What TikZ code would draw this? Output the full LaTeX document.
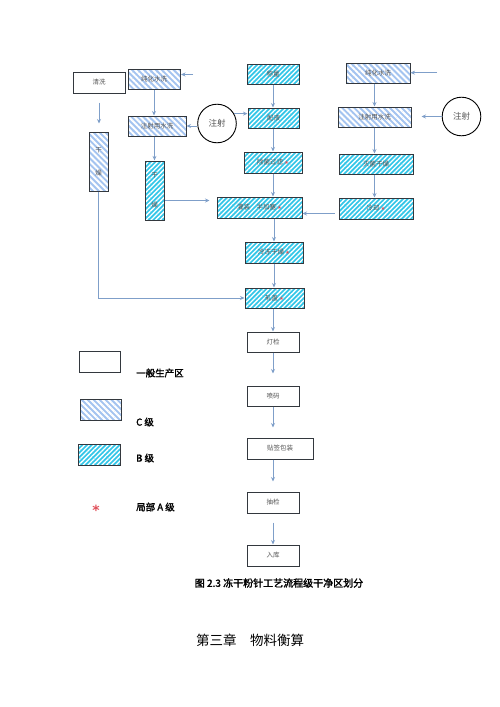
\documentclass[tikz,border=0pt]{standalone}
\usepackage{fontspec}
\newfontfamily\cjk{Noto Sans CJK SC}
\newfontfamily\cjkb[FakeBold=2]{Noto Sans CJK SC}
\newfontfamily\sym{DejaVu Sans}
\newfontfamily\symb{DejaVu Sans Bold}
\usetikzlibrary{patterns.meta,arrows.meta,calc}
\definecolor{arrc}{HTML}{7F9FC9}
\definecolor{bordc}{HTML}{33383E}
\definecolor{cfill}{HTML}{A4C4F0}
\definecolor{bfill}{HTML}{33C6E8}
\definecolor{txtc}{HTML}{555555}
\definecolor{starc}{HTML}{E0505A}
\newcommand{\stb}{\textcolor{starc}{\sym\fontsize{5}{5}\selectfont ★}}
\tikzset{
  box/.style={draw=bordc, line width=1pt, inner sep=0pt, align=center,
    font=\cjk\fontsize{6.5}{7}\selectfont, text=txtc},
  wbox/.style={box, fill=white},
  cbox/.style={box, preaction={fill=cfill},
    pattern={Lines[angle=-45,distance=4.2pt,line width=2pt]}, pattern color=white},
  bbox/.style={box, preaction={fill=bfill},
    pattern={Lines[angle=45,distance=3.3pt,line width=1.3pt]}, pattern color=white},
  sz/.style 2 args={minimum width=#1pt, minimum height=#2pt},
  inj/.style={circle, draw=black, line width=0.9pt, fill=white, minimum size=38.6pt,
    inner sep=0pt, font=\cjk\fontsize{8.5}{9}\selectfont, text=txtc},
  arr/.style={draw=arrc, line width=0.9pt, -{Stealth[length=4.5pt,width=4pt]}},
  legt/.style={anchor=west, inner sep=0pt, font=\cjkb\fontsize{9.5}{10}\selectfont}
}
\begin{document}
\begin{tikzpicture}[x=1pt,y=-1pt]
\useasboundingbox (0,0) rectangle (500,707);
% left columns
\node[wbox, sz={52}{21}] (qx) at (99,82.5) {清洗};
\node[cbox, sz={52}{20}] (cs1) at (154,79) {纯化水洗};
\node[cbox, sz={58}{20}] (zs1) at (157,126) {注射用水洗};
\node[cbox, sz={19}{59}] (gz1) at (98.5,161.5) {干\\[16pt]燥};
\node[bbox, sz={19}{59}] (gz2) at (154.5,190.5) {干\\[23pt]燥};
\node[inj] (c1) at (217,123.5) {注射};
% main column
\node[bbox, sz={52}{20}] (cl) at (273,74) {称量};
\node[bbox, sz={51}{20}] (py) at (273.5,118) {配液};
\node[bbox, sz={58}{21}] (cj) at (273,162.5) {除菌过滤 \stb};
\node[bbox, sz={85}{21}] (gzh) at (259.5,207.5) {灌装\quad 半加塞 \stb};
\node[bbox, sz={58}{21}] (ld) at (274,252.5) {冷冻干燥 \stb};
\node[bbox, sz={59}{20}] (zg) at (274.5,298) {轧盖 \stb};
\node[wbox, sz={52}{20}] (dj) at (273,342) {灯检};
\node[wbox, sz={52}{20}] (pm) at (273,396) {喷码};
\node[wbox, sz={66}{21}] (tq) at (280,448.5) {贴签包装};
\node[wbox, sz={52}{21}] (cj2) at (273,502.5) {抽检};
\node[wbox, sz={52}{21}] (rk) at (273,555.5) {入库};
% right column
\node[cbox, sz={64}{20}] (cs2) at (378,73) {纯化水洗};
\node[cbox, sz={73}{20}] (zs2) at (374.5,117) {注射用水洗};
\node[bbox, sz={74}{20}] (mj) at (376,164) {灭菌干燥};
\node[bbox, sz={74}{21}] (lq) at (376,208.5) {冷却 \stb};
\node[inj] (c2) at (461.5,116.5) {注射};
\coordinate (a1) at (193,74.5);
\coordinate (a2) at (437,72.7);
% connectors
\draw[arr] (a1) -- (a1 -| cs1.east);
\draw[arr] (cs1.south) -- (cs1.south |- zs1.north);
\draw[arr] ($(c1.west)+(0,2.5)$) -- ($(c1.west -| zs1.east)+(0,2.5)$);
\draw[arr] (c1.30) -- (c1.30 -| py.west);
\draw[arr, shorten <=9pt, shorten >=8pt] (qx.south) -- (qx.south |- gz1.north);
\draw[arr] (gz2.north |- zs1.south) -- (gz2.north);
\draw[arr, shorten >=7pt] ($(gz2.east)+(0,10)$) -- ($(gz2.east -| gzh.west)+(0,10)$);
\draw[arr] (cl.south) -- (cl.south |- py.north);
\draw[arr] (cj.north |- py.south) -- (cj.north);
\draw[arr] (cj.south) -- (cj.south |- gzh.north);
\draw[arr, shorten <=4pt] ($(lq.west)+(0,5)$) -- ($(lq.west -| gzh.east)+(0,5)$);
\draw[arr] (ld.north |- gzh.south) -- (ld.north);
\draw[arr] (ld.south) -- (ld.south |- zg.north);
\draw[arr] (gz1.south) |- (zg.west);
\draw[arr] (dj.north |- zg.south) -- (dj.north);
\draw[arr, shorten >=12pt] (dj.south) -- (pm.north);
\draw[arr, shorten >=10pt] (pm.south) -- (pm.south |- tq.north);
\draw[arr, shorten >=10pt] (cj2.north |- tq.south) -- (cj2.north);
\draw[arr, shorten <=9pt] (cj2.south) -- (rk.north);
\draw[arr] (a2) -- (a2 -| cs2.east);
\draw[arr] (zs2.north |- cs2.south) -- (zs2.north);
\draw[arr, shorten >=10pt] (c2.west) -- (c2.west -| zs2.east);
\draw[arr] (zs2.south) -- (zs2.south |- mj.north);
\draw[arr] (zs2.south |- mj.south) -- (zs2.south |- lq.north);
% legend
\node[wbox, sz={41}{21}] (lw) at (100,361.5) {};
\node[cbox, sz={41}{21}] (lc) at (100.5,409.5) {};
\node[bbox, sz={42}{21}] (lb) at (99,454.5) {};
\node[legt] (tw) at (136,373) {一般生产区};
\node[legt] (tc) at (136,422) {C 级};
\node[legt] (tb) at (136,458) {B 级};
\node[inner sep=0pt, text=starc, font=\symb\fontsize{14}{14}\selectfont] (ls) at (96,510) {*};
\node[legt] (ta) at (136,507) {局部 A 级};
% captions
\node[inner sep=0pt, font=\cjkb\fontsize{10}{11}\selectfont] (cap) at (279,583) {图 2.3 冻干粉针工艺流程级干净区划分};
\node[inner sep=0pt, font=\cjk\fontsize{13.5}{14}\selectfont] (chap) at (250,640) {第三章\quad 物料衡算};
\end{tikzpicture}
\end{document}
